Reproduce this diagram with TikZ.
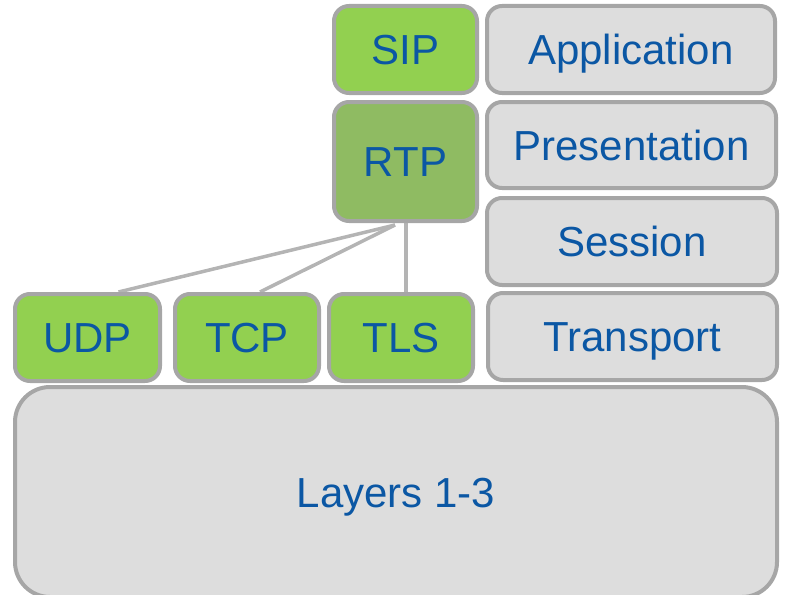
\documentclass[tikz,border=0pt]{standalone}
\usepackage{fontspec}
\setmainfont{Liberation Sans}
\usetikzlibrary{backgrounds}
\definecolor{boxgreen}{HTML}{92D050}
\definecolor{rtpgreen}{HTML}{8FBB62}
\definecolor{boxgray}{HTML}{DDDDDD}
\definecolor{edgegray}{HTML}{A6A6A6}
\definecolor{linegray}{HTML}{B4B4B4}
\definecolor{txtblue}{HTML}{0B57A4}
\begin{document}
\begin{tikzpicture}[x=1pt,y=-1pt,
  box/.style={draw=edgegray, line width=4pt, rounded corners=15pt, inner sep=0pt,
    text height=30pt, text depth=0pt,
    text=txtblue, font=\fontsize{42}{50}\selectfont},
  gbox/.style={box, fill=boxgreen},
  ybox/.style={box, fill=boxgray},
  conn/.style={draw=linegray, line width=3.5pt}]
\useasboundingbox (0,0) rectangle (786,594);
\node[gbox, minimum width=143pt, minimum height=87pt] (sip) at (405.5,49.5) {SIP};
\node[ybox, minimum width=288pt, minimum height=87pt] (app) at (631,49.5) {Application};
\node[box, fill=rtpgreen, minimum width=143pt, minimum height=119pt] (rtp) at (405.5,161.5) {RTP};
\node[ybox, minimum width=289pt, minimum height=86pt] (pres) at (631.5,145) {Presentation};
\node[ybox, minimum width=290pt, minimum height=87pt] (sess) at (632,241.5) {Session};
\node[ybox, minimum width=289pt, minimum height=87pt] (trans) at (632.5,336.5) {Transport};
\node[gbox, minimum width=145pt, minimum height=87pt] (udp) at (87.5,337.5) {UDP};
\node[gbox, minimum width=144pt, minimum height=87pt] (tcp) at (247,337.5) {TCP};
\node[gbox, minimum width=144pt, minimum height=87pt] (tls) at (401,337.5) {TLS};
\node[ybox, rounded corners=35pt, minimum width=762pt, minimum height=210pt] (layers) at (396,492) {Layers 1-3};
\coordinate (hub) at (395,225);
\coordinate (vtop) at (406,223);
\begin{scope}[on background layer]
\draw[conn] (hub) -- ([xshift=31pt]udp.north);
\draw[conn] (hub) -- ([xshift=13pt]tcp.north);
\draw[conn] (vtop) -- ([xshift=5pt]tls.north);
\end{scope}
\end{tikzpicture}
\end{document}
